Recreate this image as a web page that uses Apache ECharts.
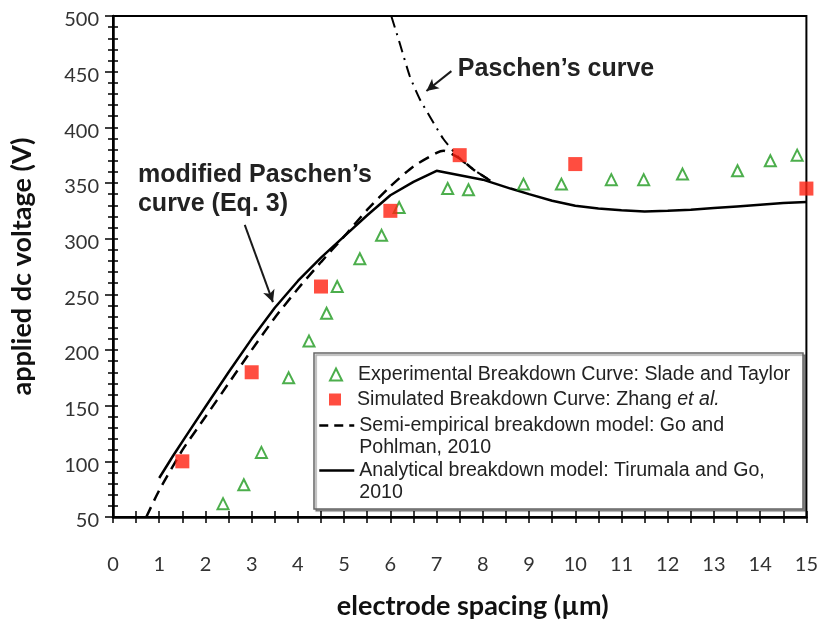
<!DOCTYPE html>
<html>
<head>
<meta charset="utf-8">
<script src="https://cdn.jsdelivr.net/npm/echarts@6/dist/echarts.min.js"></script>
<style>
html,body{margin:0;padding:0;background:#fff;}
#chart{width:821px;height:625px;}
</style>
</head>
<body>
<div id="chart"></div>
<script>
// ---- data ----
const xTicks = [0,1,2,3,4,5,6,7,8,9,10,11,12,13,14,15];
const yTicks = [50,100,150,200,250,300,350,400,450,500];

const expX = [2.38,2.83,3.21,3.80,4.24,4.62,4.85,5.34,5.81,6.19,7.24,7.69,8.88,9.70,10.78,11.48,12.32,13.51,14.22,14.80];
const expV = [62,79,108,175,208,233,257,282,303,328,345,344,349,349,353,353,358,361,370,375];

const simX = [1.5,3,4.5,6,7.5,10,15];
const simV = [100,180,257,325,375,367,345];

const semiX = [0.72,1.0,1.5,2.0,2.5,3.0,3.5,4.0,4.5,5.0,5.5,6.0,6.5,7.0,7.15,7.5,7.8,8.2];
const semiV = [50,74,110,140,170,200,229,255,279,302,326,347,365,377,379,372,362,351];

const anaX = [1.0,1.3,1.6,2.0,2.5,3.0,3.5,4.0,4.5,5.0,5.5,6.0,6.5,7.0,7.5,8.0,8.3,8.6,9.0,9.5,10.0,10.5,11.0,11.5,12.0,12.5,13.0,13.5,14.0,14.5,15.0];
const anaV = [85,105,124,149,180,210,238,262,283,302,321,339,351,361,357,353,349,345,340,334,329.5,327,325.5,324.5,325,326,327.5,329,330.5,332,333];

const pasX = [6.02,6.2,6.42,6.64,6.85,7.14,7.5,7.8,8.1];
const pasV = [500,476,446,425,410,390,372,362,354];

const names = {
  exp: 'Experimental Breakdown Curve: Slade and Taylor',
  sim: 'Simulated Breakdown Curve: Zhang et al.',
  semi: 'Semi-empirical breakdown model: Go and Pohlman, 2010',
  ana: 'Analytical breakdown model: Tirumala and Go, 2010'
};

const zip = (a, b) => a.map((v, i) => [v, b[i]]);

const chart = echarts.init(document.getElementById('chart'), null, {renderer: 'canvas'});

const LEG_FONT = 'Liberation Sans, Arial, sans-serif';
const LEG_SIZE = 19.6;
const legendText = {fontSize: LEG_SIZE, fontFamily: LEG_FONT, color: '#222', lineHeight: 22,
  rich: {i: {fontStyle: 'italic', fontSize: LEG_SIZE, fontFamily: LEG_FONT, color: '#222', lineHeight: 22}}};

function fmt(n) {
  if (n === names.sim) return 'Simulated Breakdown Curve: Zhang {i|et al.}';
  if (n === names.semi) return 'Semi-empirical breakdown model: Go and\nPohlman, 2010';
  if (n === names.ana) return 'Analytical breakdown model: Tirumala and Go,\n2010';
  return n;
}

function symLegend(name, top) {
  return {
    data: [name], left: 329, top: top, orient: 'vertical', padding: 0,
    itemWidth: 12, itemHeight: 12, itemGap: 0, selectedMode: false, formatter: fmt,
    textStyle: Object.assign({}, legendText, {padding: [0, 0, 0, 11]})
  };
}
function lineLegend(name, top, dash) {
  return {
    data: [name], left: 318, top: top, orient: 'vertical', padding: 0,
    itemWidth: 35, itemHeight: 12, itemGap: 0, selectedMode: false, formatter: fmt,
    itemStyle: {color: 'rgba(0,0,0,0)', borderColor: 'rgba(0,0,0,0)', borderWidth: 0},
    lineStyle: {color: '#000', width: 2.5, type: dash},
    textStyle: Object.assign({}, legendText, {padding: [22, 0, 0, 0]})
  };
}

const axisFont = 'Lato, Carlito, sans-serif';

const option = {
  animation: false,
  backgroundColor: '#fff',
  grid: {left: 113, right: 14, top: 16, bottom: 103, show: true, borderColor: '#000', borderWidth: 2, backgroundColor: 'transparent'},
  legend: [
    symLegend(names.exp, 363.5),
    symLegend(names.sim, 388.5),
    lineLegend(names.semi, 392.5, [9, 6]),
    lineLegend(names.ana, 437.5, 'solid')
  ],
  xAxis: [{
    type: 'value', min: 0, max: 15, interval: 1, position: 'bottom',
    axisLine: {lineStyle: {color: '#000', width: 2.5}},
    axisTick: {show: true, length: 6, lineStyle: {color: '#000', width: 1.5}},
    minorTick: {show: true, splitNumber: 2, length: 6, lineStyle: {color: '#000', width: 1.5}},
    splitLine: {show: false},
    axisLabel: {fontSize: 20, fontFamily: axisFont, color: '#333', margin: 38,
      formatter: v => xTicks.indexOf(v) >= 0 ? String(v) : ''},
    name: 'electrode spacing (µm)', nameLocation: 'middle', nameGap: 76,
    nameTextStyle: {fontSize: 27, fontWeight: 'bold', fontFamily: axisFont, color: '#111', padding: [0, 0, 0, 26]}
  }, {
    type: 'value', min: 0, max: 15, interval: 1, position: 'bottom',
    axisLine: {show: false},
    axisTick: {show: true, inside: true, length: 6, lineStyle: {color: '#000', width: 1.5}},
    minorTick: {show: true, splitNumber: 2, length: 6, lineStyle: {color: '#000', width: 1.5}},
    splitLine: {show: false}, axisLabel: {show: false}
  }],
  yAxis: [{
    type: 'value', min: 50, max: 500, interval: 50, position: 'left',
    axisLine: {show: true, lineStyle: {color: '#000', width: 2.5}},
    axisTick: {show: true, length: 8, lineStyle: {color: '#000', width: 1.5}},
    minorTick: {show: true, splitNumber: 5, length: 5, lineStyle: {color: '#000', width: 1.5}},
    splitLine: {show: false},
    axisLabel: {fontSize: 20, fontFamily: axisFont, color: '#333', margin: 14,
      rich: {a: {fontSize: 20, fontFamily: axisFont, color: '#333', padding: [8, 0, 0, 0]}},
      formatter: v => yTicks.indexOf(v) >= 0 ? '{a|' + v + '}' : ''},
    name: 'applied dc voltage (V)', nameLocation: 'middle', nameGap: 77,
    nameTextStyle: {fontSize: 27, fontWeight: 'bold', fontFamily: axisFont, color: '#111'}
  }, {
    type: 'value', min: 50, max: 500, interval: 50, position: 'left',
    axisLine: {show: false},
    axisTick: {show: true, inside: true, length: 5, lineStyle: {color: '#000', width: 1.5}},
    minorTick: {show: true, splitNumber: 5, length: 5, lineStyle: {color: '#000', width: 1.5}},
    splitLine: {show: false}, axisLabel: {show: false}
  }],
  series: [
    {
      name: names.ana, type: 'line', data: zip(anaX, anaV), symbol: 'none', z: 3,
      lineStyle: {color: '#000', width: 2.5, type: 'solid'}, itemStyle: {color: '#000'}
    },
    {
      name: names.semi, type: 'line', data: zip(semiX, semiV), symbol: 'none', smooth: 0.2, z: 3,
      lineStyle: {color: '#000', width: 2.5, type: [11, 7]}, itemStyle: {color: '#000'}
    },
    {
      name: 'Paschen', type: 'line', data: zip(pasX, pasV), symbol: 'none', smooth: 0.2, z: 3,
      lineStyle: {color: '#000', width: 2, type: [12, 6, 2, 6]}, itemStyle: {color: '#000'},
      markLine: {
        silent: true, symbol: ['none', 'arrow'], symbolSize: [9, 12], animation: false,
        label: {show: false},
        lineStyle: {color: '#1a1a1a', width: 2, type: 'solid'},
        data: [
          [{coord: [7.32, 450.5]}, {coord: [6.78, 432.7]}],
          [{coord: [2.85, 312.4]}, {coord: [3.46, 243]}]
        ]
      }
    },
    {
      name: names.exp, type: 'scatter', data: zip(expX, expV), symbol: 'emptyTriangle', symbolSize: 11, z: 4,
      itemStyle: {color: '#1f9a1f', borderWidth: 1.8}
    },
    {
      name: names.sim, type: 'scatter', data: zip(simX, simV), symbol: 'rect', symbolSize: 14, z: 5,
      itemStyle: {color: '#ff2010'}
    }
  ]
};

chart.setOption(option);

// annotations placed in data coordinates
function px(x, y) { return chart.convertToPixel({xAxisIndex: 0, yAxisIndex: 0}, [x, y]); }
const ANN_FONT = 'bold 25px "Liberation Sans", Arial, sans-serif';
const pA = px(7.46, 452);
const pB1 = px(0.54, 357);
const pB2 = px(0.54, 331);
const annStyle = {font: ANN_FONT, fill: '#222', verticalAlign: 'middle', align: 'left'};
chart.setOption({
  graphic: [
    {type: 'rect', z: 1, shape: {x: 314, y: 353, width: 489, height: 156},
     style: {fill: '#fff', stroke: '#666', lineWidth: 1.5, shadowColor: 'rgba(0,0,0,0.35)', shadowOffsetX: 2, shadowOffsetY: 2, shadowBlur: 1}},
    {type: 'text', x: pA[0], y: pA[1], style: Object.assign({text: 'Paschen’s curve'}, annStyle)},
    {type: 'text', x: pB1[0], y: pB1[1], style: Object.assign({text: 'modified Paschen’s'}, annStyle)},
    {type: 'text', x: pB2[0], y: pB2[1], style: Object.assign({text: 'curve (Eq. 3)'}, annStyle)}
  ]
});
</script>
</body>
</html>
